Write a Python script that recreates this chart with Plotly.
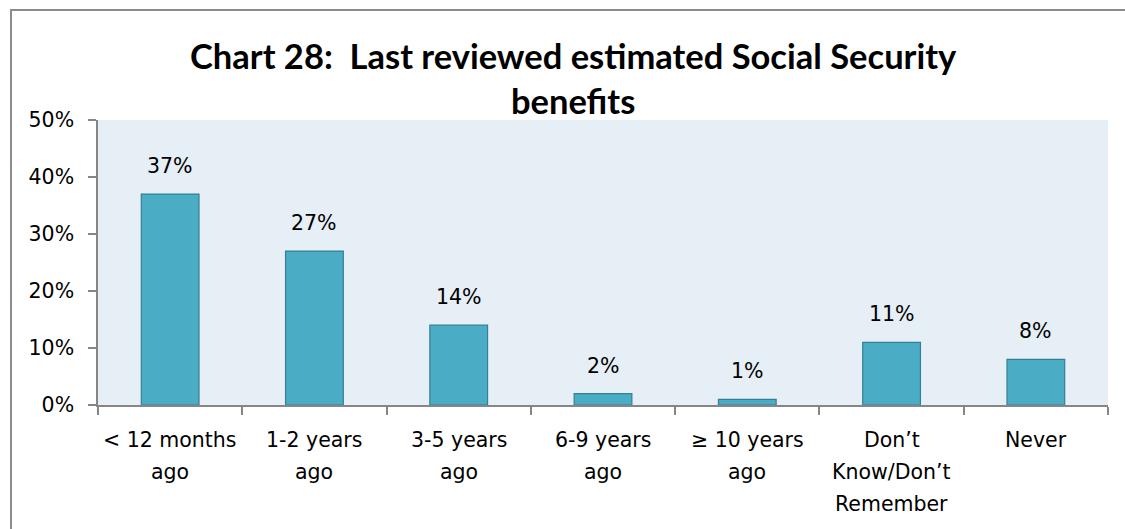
import plotly.graph_objects as go

categories = ["< 12 months ago", "1-2 years ago", "3-5 years ago", "6-9 years ago",
              "≥ 10 years ago", "Don’t Know/Don’t Remember", "Never"]
category_lines = [["< 12 months", "ago"], ["1-2 years", "ago"], ["3-5 years", "ago"],
                  ["6-9 years", "ago"], ["≥ 10 years", "ago"],
                  ["Don’t", "Know/Don’t", "Remember"], ["Never"]]
values = [37, 27, 14, 2, 1, 11, 8]
value_labels = [f"{v}%" for v in values]
y_ticks = [0, 10, 20, 30, 40, 50]
y_tick_labels = [f"{t}%" for t in y_ticks]

W, H = 1125, 529
L, R, T, B = 98, 17, 120, 124
pw, ph = W - L - R, H - T - B

def px_x(x):
    return (x - L) / pw

def px_y(y):
    return (H - B - y) / ph

FONT = "DejaVu Sans"
TITLE_FONT = "Lato"
LABEL_SIZE = 20.5
axis_color = "#868686"

fig = go.Figure(go.Bar(
    x=categories, y=values,
    marker=dict(color="#4BACC6", line=dict(color="#357F94", width=1.2)),
    cliponaxis=False,
))

annotations = [dict(text="<b>Chart 28:  Last reviewed estimated Social Security<br>benefits</b>",
                    xref="paper", yref="paper", x=px_x(573), y=px_y(78),
                    xanchor="center", yanchor="middle", showarrow=False,
                    font=dict(family=TITLE_FONT, size=34.5, color="#000000"))]

# value labels above each bar
for cat, v, lab in zip(categories, values, value_labels):
    annotations.append(dict(x=cat, y=v, xref="x", yref="y", text=lab, showarrow=False,
                            xanchor="center", yanchor="middle", yshift=28,
                            font=dict(family=FONT, size=LABEL_SIZE, color="#000000")))

# multi-line category labels under the axis
for cat, lines in zip(categories, category_lines):
    for i, line in enumerate(lines):
        annotations.append(dict(x=cat, y=0, xref="x", yref="y", text=line, showarrow=False,
                                xanchor="center", yanchor="middle", yshift=-(35 + 32 * i),
                                font=dict(family=FONT, size=LABEL_SIZE, color="#000000")))

fig.update_layout(
    width=W, height=H,
    margin=dict(l=L, r=R, t=T, b=B),
    paper_bgcolor="white",
    plot_bgcolor="#E6EEF6",
    bargap=0.6,
    showlegend=False,
    font=dict(family=FONT, size=LABEL_SIZE, color="#000000"),
    shapes=[dict(type="rect", xref="paper", yref="paper",
                 x0=px_x(11), x1=px_x(1140), y0=px_y(560), y1=px_y(10),
                 line=dict(color="#8C8C8C", width=2), layer="below")],
    annotations=annotations,
)

fig.update_xaxes(
    showline=True, linecolor=axis_color, linewidth=1.5,
    ticks="outside", tickson="boundaries", ticklen=8, tickcolor=axis_color, tickwidth=1.5,
    showticklabels=False, showgrid=False,
)
fig.update_yaxes(
    range=[0, 50], tickvals=y_ticks, ticktext=y_tick_labels,
    showline=True, linecolor=axis_color, linewidth=1.5,
    ticks="outside", ticklen=8, tickcolor=axis_color, tickwidth=1.5,
    ticklabelstandoff=10,
    tickfont=dict(family=FONT, size=LABEL_SIZE), showgrid=False, zeroline=False,
)

fig.write_html("out.html")
